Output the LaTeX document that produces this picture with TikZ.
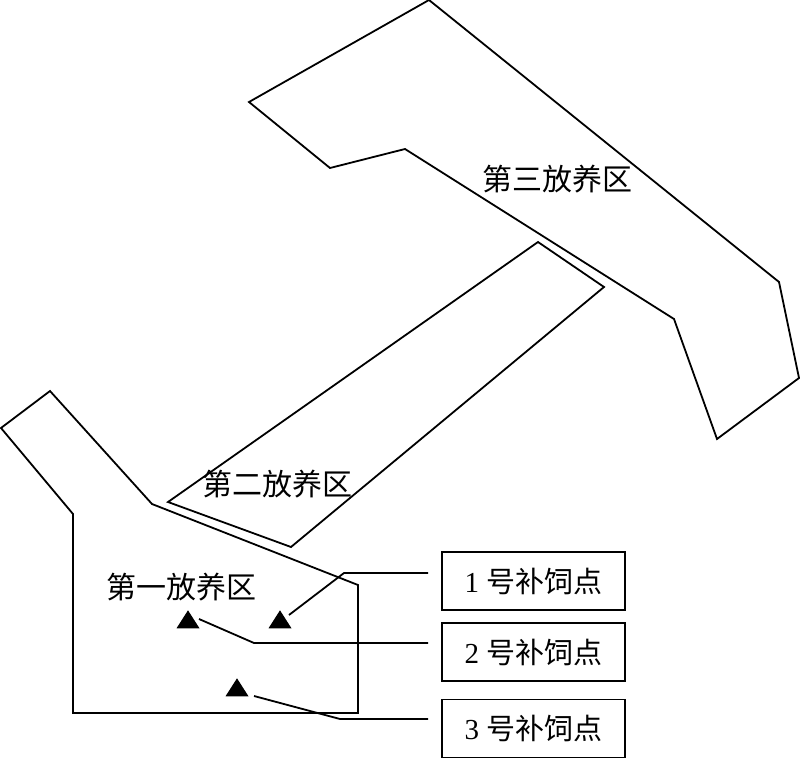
\documentclass[tikz,border=0pt]{standalone}
\usepackage{fontspec}
\setmainfont{Liberation Serif}
\newfontfamily\cjk{Noto Sans CJK SC}
\usetikzlibrary{shapes.geometric}

\begin{document}
\begin{tikzpicture}[x=1pt,y=-1pt,line width=1.8pt,
      zone/.style={line join=miter,fill=none},
      zonelabel/.style={font=\cjk\fontsize{30}{32}\selectfont,inner sep=0pt},
      feedbox/.style={draw,minimum width=183pt,minimum height=58pt,inner sep=0pt,
        font=\fontsize{29}{32}\selectfont},
      feedmark/.style={isosceles triangle,isosceles triangle stretches,
        shape border rotate=90,fill=black,draw=none,inner sep=0pt,
        minimum width=23pt,minimum height=18pt}]
    \useasboundingbox (0,0) rectangle (800,760);

    % the three zones
    \draw[zone] (1,428) -- (50,391) -- (152,504) -- (358,585) -- (358,713)
        -- (73,713) -- (73,514) -- cycle;
    \draw[zone] (168,502) -- (538,242) -- (604,287) -- (291,547) -- cycle;
    \draw[zone] (249,102) -- (429,0) -- (779,282) -- (799,378) -- (717,439)
        -- (674,319) -- (405,149) -- (330,168) -- cycle;

    \node[zonelabel] (zone1) at (181,587) {第一放养区};
    \node[zonelabel] (zone2) at (277,484) {第二放养区};
    \node[zonelabel] (zone3) at (557,179) {第三放养区};

    % feeding points
    \node[feedmark] (mark1) at (280,622) {};
    \node[feedmark] (mark2) at (188,622) {};
    \node[feedmark] (mark3) at (237,690) {};

    \node[feedbox] (box1) at (533.5,581) {1 {\cjk 号补饲点}};
    \node[feedbox] (box2) at (533.5,652) {2 {\cjk 号补饲点}};
    \node[feedbox] (box3) at (533.5,728.5) {3 {\cjk 号补饲点}};

    % leaders stop short of the boxes
    \coordinate (start1) at (289,615);
    \coordinate (bend1) at (344,573);
    \coordinate (stop1) at (428,573);
    \coordinate (start2) at (199,619);
    \coordinate (bend2) at (254,643);
    \coordinate (stop2) at (428,643);
    \coordinate (start3) at (254,696);
    \coordinate (bend3) at (340,719);
    \coordinate (stop3) at (428,719);
    \foreach \i in {1,2,3}
        \draw (start\i) -- (bend\i) -- (stop\i);
\end{tikzpicture}
\end{document}
